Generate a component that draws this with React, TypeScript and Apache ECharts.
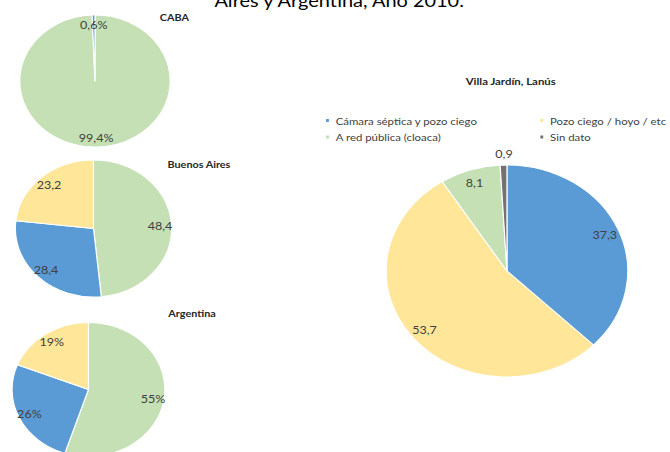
import React, { useEffect, useRef } from "react";
import * as echarts from "echarts";

// ---- data ----
const CAT_CAMARA = "Cámara séptica y pozo ciego";
const CAT_POZO = "Pozo ciego / hoyo / etc";
const CAT_RED = "A red pública (cloaca)";
const CAT_SIN = "Sin dato";

const cabaNames = [CAT_RED, CAT_CAMARA];
const cabaValues = [99.4, 0.6];

const baNames = [CAT_RED, CAT_CAMARA, CAT_POZO];
const baValues = [48.4, 28.4, 23.2];

const argNames = [CAT_RED, CAT_CAMARA, CAT_POZO];
const argValues = [55, 26, 19];

const villaNames = [CAT_CAMARA, CAT_POZO, CAT_RED, CAT_SIN];
const villaValues = [37.3, 53.7, 8.1, 0.9];

const legendCol1 = [CAT_CAMARA, CAT_RED];
const legendCol2 = [CAT_POZO, CAT_SIN];

const mainTitle = "Aires y Argentina, Año 2010.";

// ---- styles ----
const COLORS: Record<string, string> = {
  [CAT_CAMARA]: "#5B9BD5",
  [CAT_POZO]: "#FFE699",
  [CAT_RED]: "#C5E0B4",
  [CAT_SIN]: "#767171",
};
const SX = 1.14;
const W = Math.round(670 / SX);
const H = 452;
const FONT = "Lato, 'Liberation Sans', sans-serif";
const LABEL_COLOR = "#404040";

function fmt(v: number, pct: boolean) {
  return String(v).replace(".", ",") + (pct ? "%" : "");
}

function piePair(
  names: string[],
  values: number[],
  center: number[],
  r: number,
  labelRatio: number,
  pct: boolean,
  labelShift: Record<number, { dx?: number; dy?: number }> = {}
) {
  const main = {
    type: "pie",
    center,
    radius: [0, r],
    startAngle: 90,
    clockwise: true,
    silent: true,
    avoidLabelOverlap: false,
    label: { show: false },
    labelLine: { show: false },
    emphasis: { disabled: true },
    itemStyle: { borderColor: "#ffffff", borderWidth: 1 },
    data: names.map((n, i) => ({
      name: n,
      value: values[i],
      itemStyle: { color: COLORS[n] },
    })),
  };
  const overlay = {
    type: "pie",
    center,
    radius: [r * labelRatio, r],
    startAngle: 90,
    clockwise: true,
    silent: true,
    z: 5,
    avoidLabelOverlap: false,
    emphasis: { disabled: true },
    labelLine: { show: false },
    itemStyle: { color: "rgba(0,0,0,0)", borderWidth: 0 },
    label: {
      show: true,
      position: "inside",
      color: LABEL_COLOR,
      fontSize: 11,
      fontFamily: FONT,
      textBorderWidth: 0,
      formatter: (p: any) => fmt(p.value, pct),
    },
    labelLayout: (p: any) => labelShift[p.dataIndex] || {},
    data: values.map((v) => ({ value: v })),
  };
  return [main, overlay];
}

function titleText(text: string, x: number, y: number, size = 9.5, bold = true) {
  return {
    type: "text",
    x,
    y,
    silent: true,
    style: {
      text,
      fill: bold ? "#262626" : "#000000",
      font: `${bold ? "bold " : ""}${size}px ${FONT}`,
      align: "center",
      verticalAlign: "middle",
    },
  };
}

export default function App() {
  const ref = useRef<HTMLDivElement>(null);

  useEffect(() => {
    document.body.style.margin = "0";
    if (!ref.current) return;
    const chart = echarts.init(ref.current, undefined, { renderer: "svg" });
    const legendCommon = {
      orient: "vertical",
      icon: "rect",
      itemWidth: 4.5,
      itemHeight: 5,
      itemGap: 6.5,
      padding: 0,
      selectedMode: false,
      textStyle: { color: LABEL_COLOR, fontSize: 10, fontFamily: FONT },
    };
    chart.setOption({
      animation: false,
      backgroundColor: "#ffffff",
      legend: [
        { ...legendCommon, data: legendCol1, left: 284, top: 115.5 },
        { ...legendCommon, data: legendCol2, left: 472, top: 115.5 },
      ],
      graphic: [
        titleText(mainTitle, 297.5, 0, 17.5, false),
        titleText("CABA", 153, 17),
        titleText("Buenos Aires", 174.5, 164),
        titleText("Argentina", 168.5, 313.5),
        titleText("Villa Jardín, Lanús", 448, 80.5, 10),
      ],
      series: [
        ...piePair(cabaNames, cabaValues, [83.3, 81], 66, 0.62, true),
        ...piePair(baNames, baValues, [82, 228.5], 68.5, 0.62, false),
        ...piePair(argNames, argValues, [77.6, 389.5], 67, 0.62, true),
        ...piePair(villaNames, villaValues, [444.7, 271], 106, 0.7, false, {
          3: { dy: -24 },
        }),
      ],
    });
    return () => chart.dispose();
  }, []);

  return (
    <div
      style={{
        position: "absolute",
        left: 0,
        top: 0,
        width: 670,
        height: H,
        overflow: "hidden",
      }}
    >
      <div
        ref={ref}
        style={{
          width: W,
          height: H,
          transform: `scaleX(${SX})`,
          transformOrigin: "0 0",
        }}
      />
    </div>
  );
}
